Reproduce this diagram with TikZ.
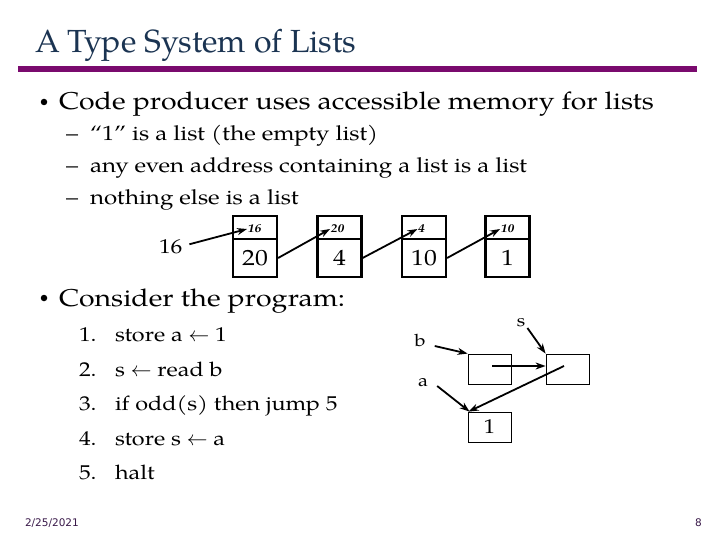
\documentclass[tikz,border=0pt]{standalone}
\usepackage{fontspec}
\setmainfont{TeX Gyre Pagella}[FakeStretch=1.17]
\newfontfamily\titlefont{TeX Gyre Pagella}
\setsansfont{DejaVu Sans}
\usetikzlibrary{arrows.meta}
\definecolor{titleblue}{HTML}{1B3452}
\definecolor{barpurple}{HTML}{7A0A6E}
\definecolor{datepurple}{HTML}{3A1A4A}
\newcommand{\fsz}[1]{\fontsize{#1}{#1}\selectfont}
\tikzset{
  txt/.style={anchor=base west, inner sep=0pt, outer sep=0pt},
  dot/.style={circle, fill=black, inner sep=0pt, minimum size=6.5pt},
  cellt/.style={draw, line width=2.2pt, minimum width=44pt, minimum height=23pt, inner sep=0pt},
  cellb/.style={draw, line width=2.2pt, minimum width=44pt, minimum height=38pt, inner sep=0pt, font=\fsz{22}},
  small/.style={inner sep=0pt, font=\fsz{11.5}\bfseries\itshape},
  ptr/.style={line width=1.8pt, -{Stealth[length=10pt,width=7pt]}},
  mbox/.style={draw, line width=0.8pt, minimum width=43pt, minimum height=30pt, inner sep=0pt, font=\fsz{20}},
  var/.style={inner sep=0pt, font=\fsz{17}}
}
\begin{document}
\begin{tikzpicture}[x=1pt,y=-1pt]
\useasboundingbox[fill=white] (0,0) rectangle (720,540);
% title
\node[txt, font=\titlefont\fsz{32}, text=titleblue] (title) at (35,53) {A Type System of Lists};
\fill[barpurple] (18,66) rectangle (697,72.5);
% bullet 1
\node[dot] (b1dot) at (44,102) {};
\node[txt, font=\fsz{24.3}] (b1) at (59,110) {Code producer uses accessible memory for lists};
\node[txt, font=\fsz{20.6}] (d1) at (66,141) {–};
\node[txt, font=\fsz{20.6}] (s1) at (90,141) {``1'' is a list (the empty list)};
\node[txt, font=\fsz{20.6}] (d2) at (66,173) {–};
\node[txt, font=\fsz{20.6}] (s2) at (90,173) {any even address containing a list is a list};
\node[txt, font=\fsz{20.6}] (d3) at (66,205) {–};
\node[txt, font=\fsz{20.6}] (s3) at (90,205) {nothing else is a list};
% list
\node[txt, font=\fsz{20}] (n16) at (159,253) {16};
\node[cellt] (c1t) at (255,227.5) {};
\node[cellb] (c1b) at (255,258) {20};
\node[cellt] (c2t) at (339.5,227.5) {};
\node[cellb] (c2b) at (339.5,258) {4};
\node[cellt] (c3t) at (424,227.5) {};
\node[cellb] (c3b) at (424,258) {10};
\node[cellt] (c4t) at (507.5,227.5) {};
\node[cellb] (c4b) at (507.5,258) {1};
\node[small] (l1) at (254.5,229) {16};
\node[small] (l2) at (337.5,229) {20};
\node[small] (l3) at (421.5,229) {4};
\node[small] (l4) at (507.5,229) {10};
\draw[ptr] ([xshift=7pt,yshift=2pt]n16.east) -- ([xshift=-0.5pt]l1.west);
\draw[ptr] (c1b.east) -- ([xshift=-0.5pt]l2.west);
\draw[ptr] (c2b.east) -- ([xshift=-0.5pt]l3.west);
\draw[ptr] (c3b.east) -- ([xshift=-0.5pt]l4.west);
% bullet 2
\node[dot] (b2dot) at (44,298) {};
\node[txt, font=\fsz{24.3}] (b2) at (59,306) {Consider the program:};
\foreach \i/\t/\y in {1/{store a $\leftarrow$ 1}/341, 2/{s $\leftarrow$ read b}/376, 3/{if odd(s) then jump 5}/410, 4/{store s $\leftarrow$ a}/445, 5/{halt}/479}{
  \node[txt, font=\fsz{20}] (num\i) at (79,\y) {\i.};
  \node[txt, font=\fsz{20}] (line\i) at (115,\y) {\t};
}
% memory diagram
\node[mbox] (bb) at (489.5,369) {};
\node[mbox] (bs) at (567.5,369) {};
\node[mbox] (bone) at (489.5,427) {1};
\node[var] (vs) at (521,323) {s};
\node[var] (vb) at (420,340) {b};
\node[var] (va) at (423,383) {a};
\draw[ptr] ([xshift=9pt,yshift=-6pt]vb.east) -- (bb.north west);
\draw[ptr] ([xshift=2pt,yshift=-5pt]vs.east) -- (bs.north west);
\draw[ptr] ([xshift=2.5pt,yshift=3pt]bb.center) -- ([yshift=3pt]bs.west);
\draw[ptr] ([xshift=-3.5pt,yshift=3pt]bs.center) -- ([xshift=1pt]bone.north west);
\draw[ptr] ([xshift=9pt,yshift=-3pt]va.east) -- ([xshift=2pt]bone.north west);
% footer
\node[txt, font=\sffamily\fsz{10.5}, text=datepurple] (date) at (25,526) {2/25/2021};
\node[txt, font=\sffamily\fsz{10.5}, text=datepurple] (page) at (695,526) {8};
\end{tikzpicture}
\end{document}
